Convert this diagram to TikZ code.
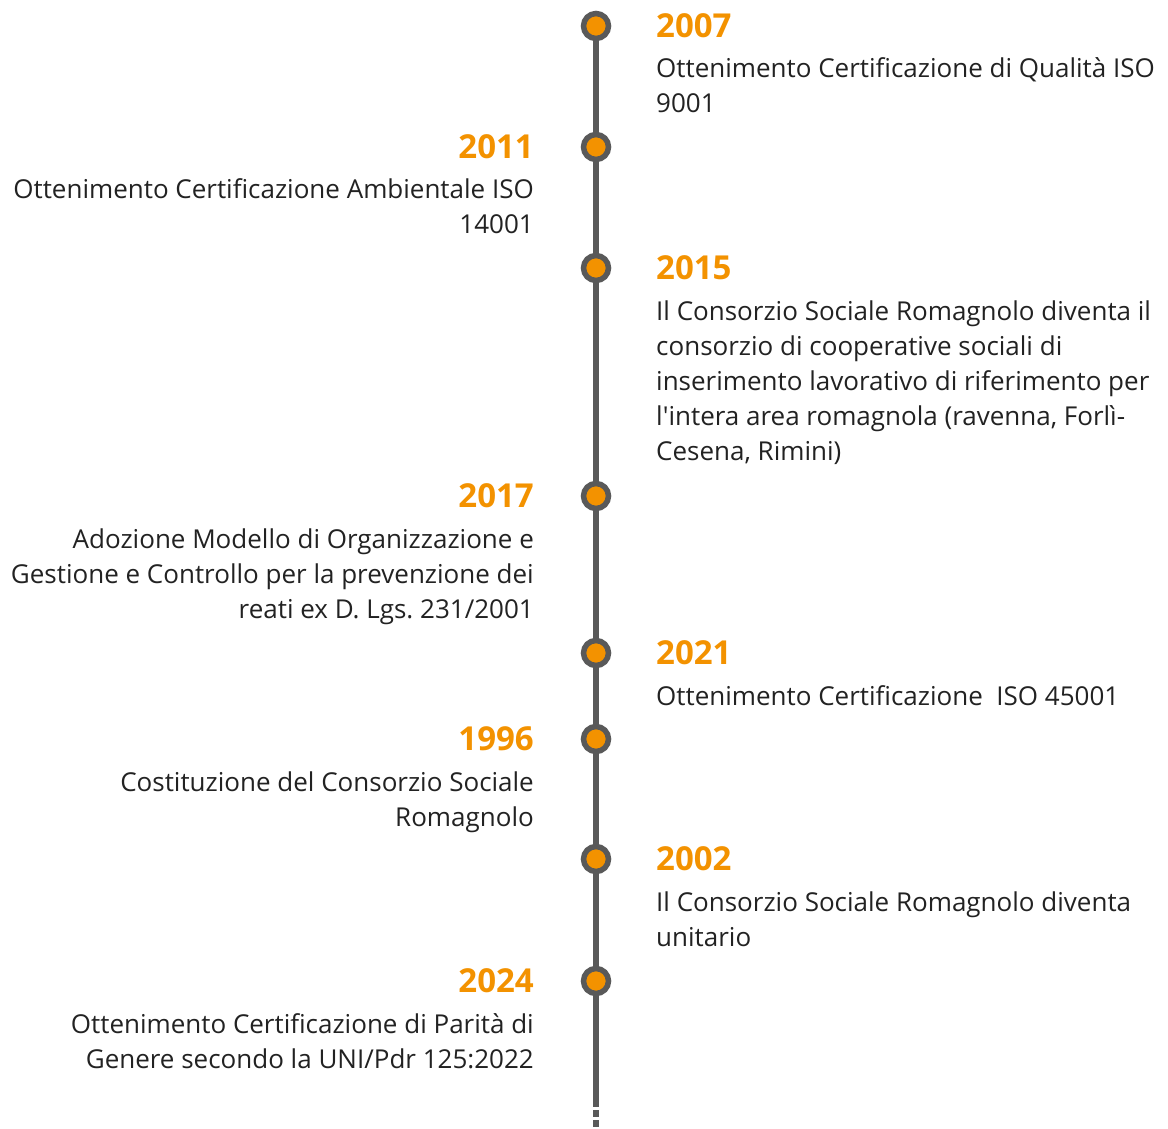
\documentclass[tikz,border=0pt]{standalone}
\usepackage{fontspec}
\setmainfont{Open Sans}[Ligatures=TeXOff]
\frenchspacing
\definecolor{tlgray}{HTML}{595959}
\definecolor{tlorange}{HTML}{F39200}
\definecolor{txt}{HTML}{222222}
\newcommand{\linesR}[1]{\begin{tabular}[t]{@{}l@{}}#1\end{tabular}}
\newcommand{\linesL}[1]{\begin{tabular}[t]{@{}r@{}}#1\end{tabular}}
\begin{document}
\begin{tikzpicture}[x=1pt,y=-1pt,
  yearR/.style={anchor=base west,inner sep=0pt,text=tlorange,font=\fontsize{33}{33}\selectfont\bfseries},
  yearL/.style={anchor=base east,inner sep=0pt,text=tlorange,font=\fontsize{33}{33}\selectfont\bfseries},
  descR/.style={anchor=base west,inner sep=0pt,text=txt,font=\fontsize{26}{35}\selectfont},
  descL/.style={anchor=base east,inner sep=0pt,text=txt,font=\fontsize{26}{35}\selectfont},
  dot/.style={circle,draw=tlgray,line width=5.5pt,fill=tlorange,minimum size=25pt,inner sep=0pt},
  axis/.style={draw=tlgray,line width=6pt}]
\useasboundingbox (0,0) rectangle (1168,1129);
\coordinate (top) at (596,26);
\coordinate (end) at (596,1100);
\coordinate (tail) at (596,1129);
\draw[axis] (top) -- (end);
\draw[axis,dash pattern=on 7pt off 3pt] (end) -- (tail);
% 2007
\node[dot] (d1) at (596,26) {};
\node[yearR] (y1) at (656,37.5) {2007};
\node[descR] (t1) at (656,78) {\linesR{Ottenimento Certificazione di Qualità ISO\\9001}};
% 2011
\node[dot] (d2) at (596,147) {};
\node[yearL] (y2) at (534,158.5) {2011};
\node[descL] (t2) at (534,199) {\linesL{Ottenimento Certificazione Ambientale ISO\\14001}};
% 2015
\node[dot] (d3) at (596,268) {};
\node[yearR] (y3) at (656,279.5) {2015};
\node[descR] (t3) at (656,320) {\linesR{Il Consorzio Sociale Romagnolo diventa il\\consorzio di cooperative sociali di\\inserimento lavorativo di riferimento per\\l'intera area romagnola (ravenna, Forlì-\\Cesena, Rimini)}};
% 2017
\node[dot] (d4) at (596,496) {};
\node[yearL] (y4) at (534,507.5) {2017};
\node[descL] (t4) at (534,548) {\linesL{Adozione Modello di Organizzazione e\\Gestione e Controllo per la prevenzione dei\\reati ex D. Lgs. 231/2001}};
% 2021
\node[dot] (d5) at (596,653) {};
\node[yearR] (y5) at (656,664.5) {2021};
\node[descR] (t5) at (656,705) {Ottenimento Certificazione\ \ ISO 45001};
% 1996
\node[dot] (d6) at (596,739) {};
\node[yearL] (y6) at (534,750.5) {1996};
\node[descL] (t6) at (534,791) {\linesL{Costituzione del Consorzio Sociale\\Romagnolo}};
% 2002
\node[dot] (d7) at (596,859) {};
\node[yearR] (y7) at (656,870.5) {2002};
\node[descR] (t7) at (656,911) {\linesR{Il Consorzio Sociale Romagnolo diventa\\unitario}};
% 2024
\node[dot] (d8) at (596,981) {};
\node[yearL] (y8) at (534,992.5) {2024};
\node[descL] (t8) at (534,1033) {\linesL{Ottenimento Certificazione di Parità di\\Genere secondo la UNI/Pdr 125:2022}};
\end{tikzpicture}
\end{document}
